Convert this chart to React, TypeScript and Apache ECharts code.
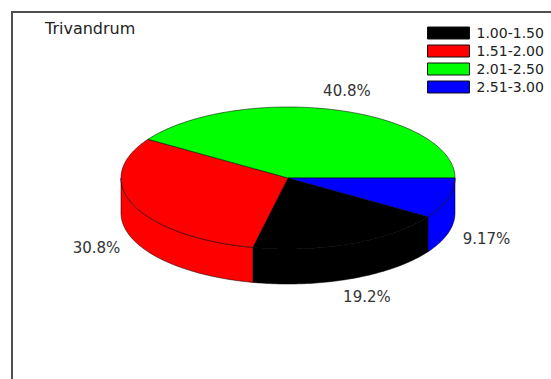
import React, { useEffect, useRef } from 'react';
import * as echarts from 'echarts';

// ---- data ----
const title = 'Trivandrum';
const categories = ['1.00-1.50', '1.51-2.00', '2.01-2.50', '2.51-3.00'];
const values = [19.2, 30.8, 40.8, 9.17];
const labels = ['19.2%', '30.8%', '40.8%', '9.17%'];
const colors = ['#000000', '#ff0000', '#00ff00', '#0000ff'];

// ---- layout (pixels) ----
const CX = 288;
const CY = 178;
const RX = 167;
const RY = 71;
const DEPTH = 35;
const LABEL_FX = 1.24;
const LABEL_FY = 1.28;

function buildOption() {
  const total = values.reduce((a, b) => a + b, 0);
  // slices run clockwise; the last slice begins at 3 o'clock and the first follows it
  const offset = values[values.length - 1];
  let cum = 0;
  const starts: number[] = [];
  values.forEach((v) => {
    starts.push(offset + cum);
    cum += v;
  });

  const pt = (a: number, dy = 0): number[] => [CX + RX * Math.cos(a), CY + RY * Math.sin(a) + dy];

  const arcPts = (s: number, e: number, dy = 0): number[][] => {
    const out: number[][] = [];
    const n = Math.max(2, Math.ceil(((e - s) * 180) / Math.PI));
    for (let i = 0; i <= n; i++) out.push(pt(s + ((e - s) * i) / n, dy));
    return out;
  };

  const series = categories.map((name, idx) => ({
    type: 'custom',
    name,
    coordinateSystem: 'none',
    silent: true,
    itemStyle: { color: colors[idx], borderColor: '#111', borderWidth: 1 },
    data: [[starts[idx], values[idx]]],
    renderItem: (params: any, api: any) => {
      const sv = api.value(0) as number;
      const v = api.value(1) as number;
      let a0 = (sv / total) * Math.PI * 2;
      let a1 = ((sv + v) / total) * Math.PI * 2;
      if (a0 >= Math.PI * 2 - 1e-9) {
        a0 -= Math.PI * 2;
        a1 -= Math.PI * 2;
      }
      const children: any[] = [];
      const edge = { stroke: 'rgba(0,0,0,0.75)', lineWidth: 0.7 };
      // visible side wall (front half: 0..PI)
      const s = Math.max(a0, 0);
      const e = Math.min(a1, Math.PI);
      if (e > s) {
        const top = arcPts(s, e, 0);
        const bottom = arcPts(s, e, DEPTH).reverse();
        children.push({
          type: 'polygon',
          shape: { points: top.concat(bottom) },
          style: { fill: colors[idx], ...edge },
        });
      }
      // top face
      children.push({
        type: 'polygon',
        shape: { points: [[CX, CY]].concat(arcPts(a0, a1, 0)) },
        style: { fill: colors[idx], ...edge },
      });
      // label
      const m = (a0 + a1) / 2;
      const sm = Math.sin(m);
      children.push({
        type: 'text',
        x: CX + RX * LABEL_FX * Math.cos(m),
        y: CY + RY * LABEL_FY * sm + (sm > 0 ? DEPTH : 0),
        style: {
          text: labels[idx],
          fill: '#333',
          fontSize: 15,
          fontFamily: 'DejaVu Sans',
          align: 'center',
          verticalAlign: 'middle',
        },
      });
      return { type: 'group', children };
    },
  }));

  return {
    animation: false,
    backgroundColor: '#ffffff',
    title: {
      text: title,
      left: 45,
      top: 20,
      padding: 0,
      textStyle: { fontSize: 16, fontWeight: 'normal', fontFamily: 'DejaVu Sans', color: '#222' },
    },
    legend: {
      data: categories,
      orient: 'vertical',
      left: 427,
      top: 26,
      padding: 0,
      itemWidth: 42,
      itemHeight: 12,
      itemGap: 4,
      icon: 'rect',
      selectedMode: false,
      itemStyle: { borderColor: '#111', borderWidth: 1 },
      textStyle: { fontSize: 14, fontFamily: 'DejaVu Sans', color: '#222', padding: [0, 0, 0, 2] },
    },
    graphic: [
      {
        type: 'rect',
        x: 12,
        y: 12,
        z: -1,
        shape: { width: 620, height: 420 },
        style: { fill: '#ffffff', stroke: '#505050', lineWidth: 2 },
        silent: true,
      },
    ],
    series,
  };
}

export default function App() {
  const ref = useRef<HTMLDivElement>(null);
  useEffect(() => {
    const chart = echarts.init(ref.current as HTMLDivElement, null, { renderer: 'svg' });
    chart.setOption(buildOption() as any);
    return () => chart.dispose();
  }, []);
  return (
    <div
      ref={ref}
      style={{ position: 'absolute', left: 0, top: 0, width: 551, height: 379, background: '#fff' }}
    />
  );
}
